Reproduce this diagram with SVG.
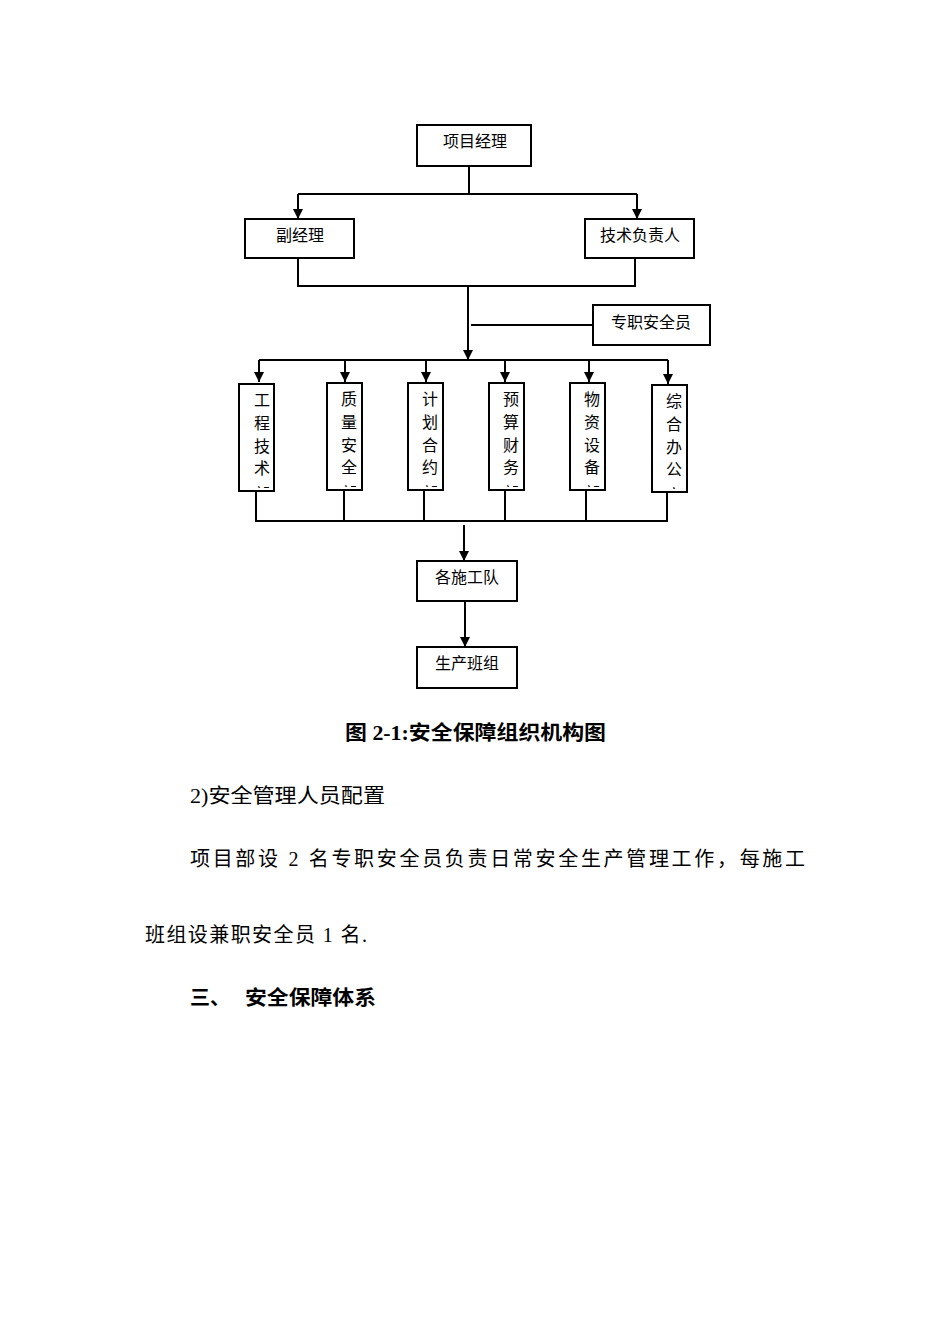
<svg xmlns="http://www.w3.org/2000/svg" width="950" height="1344" viewBox="0 0 950 1344">
<style>
.box{fill:#fff;stroke:#000;stroke-width:2}
.ln{fill:none;stroke:#000;stroke-width:2}
.t{font-family:"Liberation Serif","Noto Sans CJK SC",serif;font-size:16px;fill:#000}
.p{font-family:"Liberation Serif","Noto Sans CJK SC",serif;font-size:20px;fill:#000}
.b{font-weight:bold}
</style>
<defs>
<marker id="ar" viewBox="0 0 10 10" refX="10" refY="5" markerWidth="10" markerHeight="10" markerUnits="userSpaceOnUse" orient="auto">
<path d="M0,0 L10,5 L0,10 z" fill="#000"/>
</marker>
<clipPath id="c1"><rect x="240" y="385" width="33" height="103"/></clipPath>
<clipPath id="c2"><rect x="328" y="384" width="33" height="103"/></clipPath>
<clipPath id="c3"><rect x="409" y="384" width="33" height="103"/></clipPath>
<clipPath id="c4"><rect x="490" y="384" width="33" height="103"/></clipPath>
<clipPath id="c5"><rect x="571" y="384" width="33" height="103"/></clipPath>
<clipPath id="c6"><rect x="653" y="386" width="33" height="103"/></clipPath>
</defs>
<g id="connectors">
<path class="ln" d="M469,166 V194 M298,194 H637"/>
<path class="ln" d="M298,194 V219" marker-end="url(#ar)"/>
<path class="ln" d="M637,194 V219" marker-end="url(#ar)"/>
<path class="ln" d="M298,258 V286 H635 V258"/>
<path class="ln" d="M468,286 V360" marker-end="url(#ar)"/>
<path class="ln" d="M471,325 H593"/>
<path class="ln" d="M259,360 H668"/>
<path class="ln" d="M259,360 V382" marker-end="url(#ar)"/>
<path class="ln" d="M345,360 V382" marker-end="url(#ar)"/>
<path class="ln" d="M426,360 V382" marker-end="url(#ar)"/>
<path class="ln" d="M505,360 V382" marker-end="url(#ar)"/>
<path class="ln" d="M589,360 V382" marker-end="url(#ar)"/>
<path class="ln" d="M668,360 V384" marker-end="url(#ar)"/>
<path class="ln" d="M256,491 V521 M344,490 V521 M424,490 V521 M505,490 V521 M586,490 V521 M667,491 V521 M255,521 H668"/>
<path class="ln" d="M464,525 V561" marker-end="url(#ar)"/>
<path class="ln" d="M465,601 V647" marker-end="url(#ar)"/>
</g>
<g id="n-pm"><rect class="box" x="417" y="125" width="114" height="41"/><text class="t" x="475" y="147" text-anchor="middle">项目经理</text></g>
<g id="n-dm"><rect class="box" x="245" y="219" width="109" height="39"/><text class="t" x="300" y="241" text-anchor="middle">副经理</text></g>
<g id="n-tech"><rect class="box" x="585" y="219" width="109" height="39"/><text class="t" x="640" y="241" text-anchor="middle">技术负责人</text></g>
<g id="n-safety"><rect class="box" x="593" y="305" width="117" height="40"/><text class="t" x="651" y="328" text-anchor="middle">专职安全员</text></g>
<g id="d1"><rect class="box" x="239" y="384" width="35" height="107"/><g clip-path="url(#c1)"><text class="t" text-anchor="middle"><tspan x="262" y="406">工</tspan><tspan x="262" y="429">程</tspan><tspan x="262" y="452">技</tspan><tspan x="262" y="474">术</tspan><tspan x="262" y="500">部</tspan></text></g></g>
<g id="d2"><rect class="box" x="327" y="383" width="35" height="107"/><g clip-path="url(#c2)"><text class="t" text-anchor="middle"><tspan x="349" y="405">质</tspan><tspan x="349" y="428">量</tspan><tspan x="349" y="451">安</tspan><tspan x="349" y="473">全</tspan><tspan x="349" y="499">部</tspan></text></g></g>
<g id="d3"><rect class="box" x="408" y="383" width="35" height="107"/><g clip-path="url(#c3)"><text class="t" text-anchor="middle"><tspan x="430" y="405">计</tspan><tspan x="430" y="428">划</tspan><tspan x="430" y="451">合</tspan><tspan x="430" y="473">约</tspan><tspan x="430" y="499">部</tspan></text></g></g>
<g id="d4"><rect class="box" x="489" y="383" width="35" height="107"/><g clip-path="url(#c4)"><text class="t" text-anchor="middle"><tspan x="511" y="405">预</tspan><tspan x="511" y="428">算</tspan><tspan x="511" y="451">财</tspan><tspan x="511" y="473">务</tspan><tspan x="511" y="499">部</tspan></text></g></g>
<g id="d5"><rect class="box" x="570" y="383" width="35" height="107"/><g clip-path="url(#c5)"><text class="t" text-anchor="middle"><tspan x="592" y="405">物</tspan><tspan x="592" y="428">资</tspan><tspan x="592" y="451">设</tspan><tspan x="592" y="473">备</tspan><tspan x="592" y="499">部</tspan></text></g></g>
<g id="d6"><rect class="box" x="652" y="385" width="35" height="107"/><g clip-path="url(#c6)"><text class="t" text-anchor="middle"><tspan x="674" y="407">综</tspan><tspan x="674" y="430">合</tspan><tspan x="674" y="453">办</tspan><tspan x="674" y="475">公</tspan><tspan x="674" y="501">室</tspan></text></g></g>
<g id="n-team"><rect class="box" x="417" y="561" width="100" height="40"/><text class="t" x="467" y="583" text-anchor="middle">各施工队</text></g>
<g id="n-group"><rect class="box" x="417" y="647" width="100" height="41"/><text class="t" x="467" y="669" text-anchor="middle">生产班组</text></g>
<text class="p b" x="345" y="740" textLength="261" lengthAdjust="spacingAndGlyphs">图 2-1:安全保障组织机构图</text>
<text class="p" x="190" y="803" textLength="195" lengthAdjust="spacingAndGlyphs">2)安全管理人员配置</text>
<text class="p" x="190" y="866" textLength="615" lengthAdjust="spacing">项目部设 2 名专职安全员负责日常安全生产管理工作，每施工</text>
<text class="p" x="145" y="942" textLength="222" lengthAdjust="spacing">班组设兼职安全员 1 名.</text>
<text class="p b" x="190" y="1005">三、<tspan x="245" textLength="131" lengthAdjust="spacingAndGlyphs">安全保障体系</tspan></text>
</svg>
